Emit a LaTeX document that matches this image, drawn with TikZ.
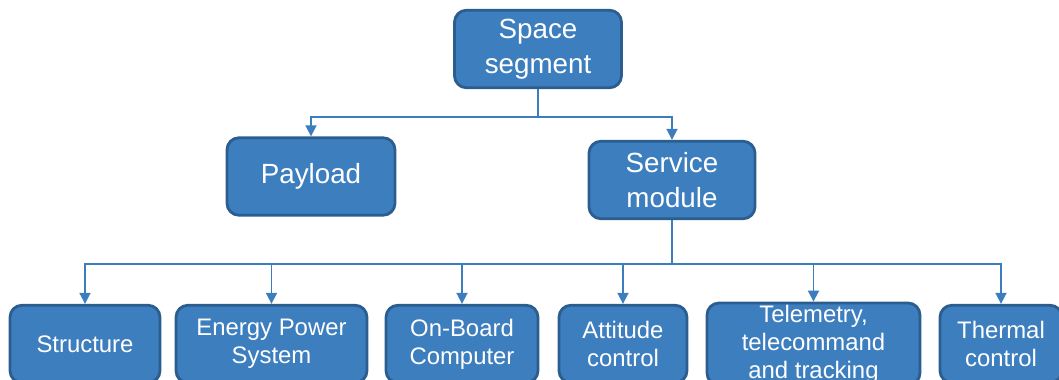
\documentclass[tikz,border=0pt]{standalone}
\usepackage{fontspec}
\setmainfont{Liberation Sans}
\usepackage{tikz}
\usetikzlibrary{arrows.meta,positioning}
\definecolor{boxfill}{HTML}{3D7EBE}
\definecolor{boxline}{HTML}{2B5E8F}
\definecolor{linkcol}{HTML}{3B7DBD}
\tikzset{
  unit/.style={draw=boxline, line width=1.6pt, rounded corners=0.24cm, fill=boxfill, text=white, align=center, minimum height=1.55cm, inner sep=1pt},
  topunit/.style={unit, font=\fontsize{15.8}{19.8}\selectfont},
  subunit/.style={unit, font=\fontsize{13.6}{16}\selectfont},
  arrow/.style={-{Triangle[length=2.2mm,width=2.2mm]}, line width=1pt, draw=linkcol}
}
\begin{document}
\begin{tikzpicture}[x=1cm,y=1cm]
  \useasboundingbox (0,0) rectangle (21.18,-7.6);
  \clip (0,0) rectangle (21.18,-7.6);
  \node[topunit,minimum width=3.34cm] (space) at (10.76,-0.98) {Space\\segment};
  \node[topunit,minimum width=3.36cm] (payload) at (6.22,-3.53) {Payload};
  \node[topunit,minimum width=3.32cm] (service) at (13.44,-3.60) {Service\\module};

  \node[subunit,minimum width=3.0cm] (struct) at (1.70,-6.88) {Structure};
  \node[subunit,minimum width=3.82cm] (eps) at (5.43,-6.88) {Energy Power\\System};
  \node[subunit,minimum width=3.04cm] (obc) at (9.24,-6.88) {On-Board\\Computer};
  \node[subunit,minimum width=2.56cm] (aocs) at (12.46,-6.88) {Attitude\\control};
  \node[subunit,minimum width=4.26cm] (ttc) at (16.27,-6.88) {Telemetry,\\telecommand\\and tracking};
  \node[subunit,minimum width=2.44cm] (thermal) at (20.02,-6.88) {Thermal\\control};

  \draw[arrow] (space.south) -- ++(0,-0.56) -| (payload.north);
  \draw[arrow] (space.south) -- ++(0,-0.56) -| (service.north);
  \foreach \sub in {struct,eps,obc,aocs,ttc,thermal}
    \draw[arrow] (service.south) -- ++(0,-0.88) -| (\sub.north);
\end{tikzpicture}
\end{document}
